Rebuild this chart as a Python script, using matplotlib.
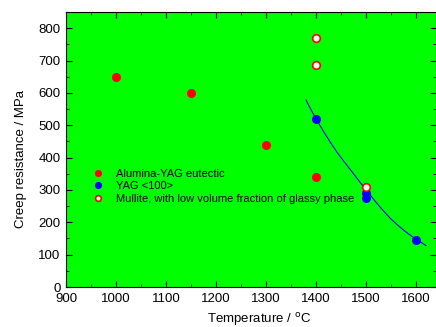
import matplotlib
matplotlib.use("Agg")
import matplotlib.pyplot as plt
from matplotlib.ticker import MultipleLocator

plt.rcParams['font.family'] = ['Liberation Sans', 'DejaVu Sans']

# data
alu_T = [1000, 1150, 1300, 1400]
alu_s = [650, 600, 440, 340]

yag_T = [1400, 1500, 1500, 1600]
yag_s = [520, 290, 275, 145]

mul_T = [1400, 1400, 1500]
mul_s = [770, 685, 308]

# fitted line for YAG
fit_T = [1380, 1390, 1400, 1415, 1430, 1445, 1460, 1475, 1490, 1505,
         1520, 1535, 1550, 1565, 1580, 1595, 1605, 1620]
fit_s = [578, 548, 520, 481, 444, 410, 380, 350, 320, 291,
         262, 235, 210, 189, 170, 153, 143, 128]

fig = plt.figure(figsize=(4.36, 3.27), dpi=100)
ax = fig.add_axes([0.1514, 0.1223, 0.8486, 0.841])
ax.set_facecolor('#00ff00')

ax.plot(fit_T, fit_s, '-', color='#0000ff', lw=0.8)
ax.plot(alu_T, alu_s, 'o', color='#ff0000', ms=5.5, mec='#ff0000',
        label='Alumina-YAG eutectic')
ax.plot(yag_T, yag_s, 'o', color='#0000ff', ms=5.5, mec='#0000ff',
        label='YAG <100>')
ax.plot(mul_T, mul_s, 'o', color='white', ms=5.5, mec='#ff0000', mew=1.2,
        label='Mullite, with low volume fraction of glassy phase')

ax.set_xlim(900, 1640)
ax.set_ylim(0, 850)
ax.xaxis.set_major_locator(MultipleLocator(100))
ax.xaxis.set_minor_locator(MultipleLocator(50))
ax.yaxis.set_major_locator(MultipleLocator(100))
ax.yaxis.set_minor_locator(MultipleLocator(50))
ax.tick_params(which='both', direction='in', top=True, right=True,
               labelsize=9.5, pad=4)
ax.tick_params(which='major', length=4.5)
ax.tick_params(which='minor', length=2.5)

ax.set_xlabel('Temperature / $^{\\mathrm{o}}$C', fontsize=9.5)
ax.set_ylabel('Creep resistance / MPa', fontsize=9.5)
ax.xaxis.set_label_coords(0.522, -0.088)
ax.yaxis.set_label_coords(-0.105, 0.467)

ax.legend(loc='upper left', bbox_to_anchor=(0.045, 0.465), frameon=False,
          fontsize=8, handlelength=1.0, handletextpad=1.1,
          labelspacing=0.2, markerscale=0.75, numpoints=1)

fig.savefig('out.png', dpi=100)
